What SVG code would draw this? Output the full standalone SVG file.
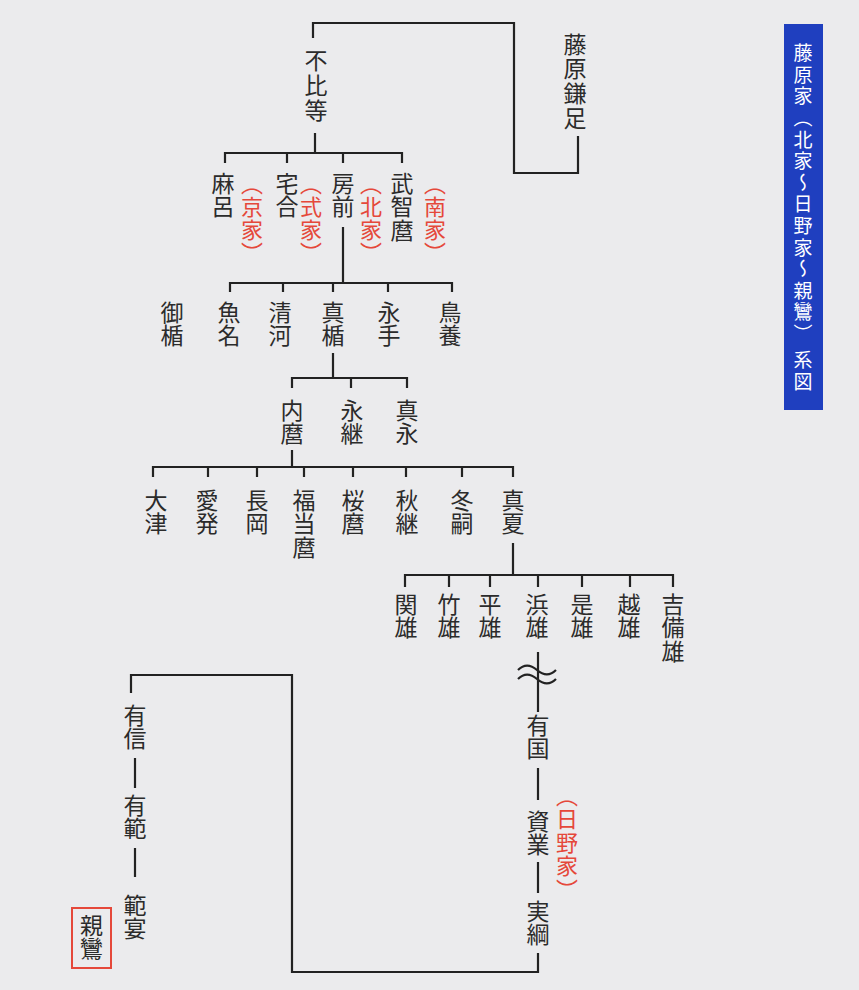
<svg xmlns="http://www.w3.org/2000/svg" width="859" height="990" viewBox="0 0 859 990">
<style>
.n{font-family:"Noto Sans CJK JP","Noto Sans CJK SC",sans-serif;font-size:23px;letter-spacing:0.5px;fill:#2b2b2b;writing-mode:vertical-rl;text-anchor:start}
.r{fill:#e5483a;font-size:22px;letter-spacing:1px}
.t{fill:#ffffff;font-size:19px;letter-spacing:2.6px}
.c{stroke:#222;stroke-width:2.2;fill:none}
</style>
<rect width="859" height="990" fill="#ebebed"/>
<g id="title">
<rect x="784" y="24" width="39" height="386" fill="#1f3fbf"/>
<text class="n t" x="803" y="43.5">藤原家（北家〜日野家〜親鸞）</text>
<text class="n t" x="803" y="350.5">系図</text>
</g>
<g id="connectors">
<path class="c" d="M313,38V23H514V173H578V136"/>
<path class="c" d="M315,133V153M225,163V153H402V163M287,153V163M343,153V163"/>
<path class="c" d="M343,227V283M230,292V283H452V292M283,283V292M333,283V292M388,283V292"/>
<path class="c" d="M333,353V378M292,388V378H407V388M351,378V388"/>
<path class="c" d="M292,450V467M153,477V467H513V477M208,467V477M257,467V477M304,467V477M353,467V477M406,467V477M462,467V477"/>
<path class="c" d="M513,543V575M405,587V575H673V587M449,575V587M490,575V587M538,575V587M582,575V587M630,575V587"/>
<path class="c" d="M538,652V712"/>
<path class="c" d="M518,670c6,-6 12,-6 19,0s13,6 19,0M518,679c6,-6 12,-6 19,0s13,6 19,0"/>
<path class="c" d="M538,768V800M538,862V893M538,953V972H292V675H131V693"/>
<path class="c" d="M135,758V788M135,848V877"/>
</g>
<g id="kamatari"><text class="n" x="575" y="32.5" style="letter-spacing:1.7px">藤原鎌足</text></g>
<g id="fuhito"><text class="n" x="316" y="48.5" style="letter-spacing:2px">不比等</text></g>
<g id="maro"><text class="n" x="223" y="171.5">麻呂</text><text class="n r" x="252" y="173">（京家）</text></g>
<g id="umakai"><text class="n" x="287" y="171.5">宅合</text><text class="n r" x="311" y="173">（式家）</text></g>
<g id="fusasaki"><text class="n" x="343" y="171.5">房前</text><text class="n r" x="371" y="173">（北家）</text></g>
<g id="muchimaro"><text class="n" x="402" y="171.5">武智麿</text><text class="n r" x="435" y="173">（南家）</text></g>
<g id="mitate"><text class="n" x="172" y="300.5">御楯</text></g>
<g id="uona"><text class="n" x="229" y="300.5">魚名</text></g>
<g id="kiyokawa"><text class="n" x="280" y="300.5">清河</text></g>
<g id="matate"><text class="n" x="333" y="300.5">真楯</text></g>
<g id="nagate"><text class="n" x="389" y="300.5">永手</text></g>
<g id="torikai"><text class="n" x="450" y="300.5">鳥養</text></g>
<g id="uchimaro"><text class="n" x="292" y="398.5">内麿</text></g>
<g id="nagatsugu"><text class="n" x="352" y="398.5">永継</text></g>
<g id="managa"><text class="n" x="407" y="398.5">真永</text></g>
<g id="otsu"><text class="n" x="156" y="488.5">大津</text></g>
<g id="manatsu2"><text class="n" x="207" y="488.5">愛発</text></g>
<g id="nagaoka"><text class="n" x="257" y="488.5">長岡</text></g>
<g id="fukutomaro"><text class="n" x="304" y="488.5">福当麿</text></g>
<g id="sakuramaro"><text class="n" x="353" y="488.5">桜麿</text></g>
<g id="akitsugu"><text class="n" x="407" y="488.5">秋継</text></g>
<g id="fuyutsugu"><text class="n" x="462" y="488.5">冬嗣</text></g>
<g id="manatsu"><text class="n" x="513" y="488.5">真夏</text></g>
<g id="sekio"><text class="n" x="406" y="592.5">関雄</text></g>
<g id="takeo"><text class="n" x="449" y="592.5">竹雄</text></g>
<g id="hirao"><text class="n" x="490" y="592.5">平雄</text></g>
<g id="hamao"><text class="n" x="537" y="592.5">浜雄</text></g>
<g id="koreo"><text class="n" x="582" y="592.5">是雄</text></g>
<g id="koshio"><text class="n" x="629" y="592.5">越雄</text></g>
<g id="kibio"><text class="n" x="673" y="592.5">吉備雄</text></g>
<g id="arikuni"><text class="n" x="538" y="713.5">有国</text></g>
<g id="sukenari"><text class="n" x="538" y="809.5">資業</text><text class="n r" x="567" y="784.5" style="letter-spacing:1.5px">（日野家）</text></g>
<g id="sanetsuna"><text class="n" x="538" y="899.5">実綱</text></g>
<g id="arinobu"><text class="n" x="135" y="703.5">有信</text></g>
<g id="arinori"><text class="n" x="135" y="793.5">有範</text></g>
<g id="hanen"><text class="n" x="135" y="893.5">範宴</text></g>
<g id="shinran"><rect x="72" y="908" width="39" height="60" fill="none" stroke="#e5483a" stroke-width="2"/><text class="n" x="91.5" y="913.5">親鸞</text></g>
</svg>
